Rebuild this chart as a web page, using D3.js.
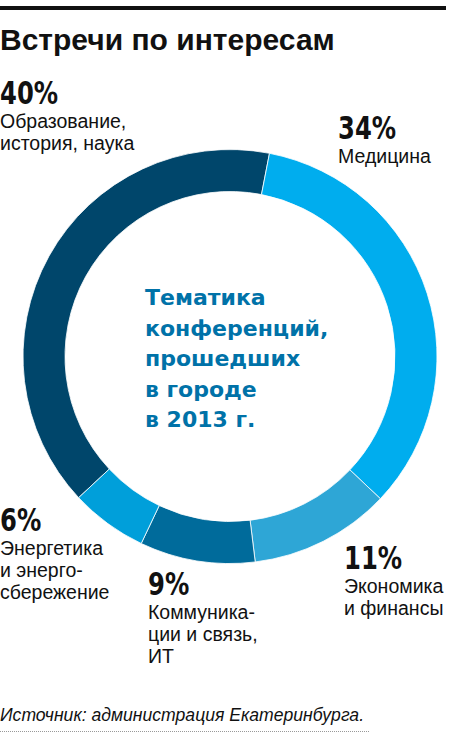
<!DOCTYPE html>
<html><head><meta charset="utf-8">
<script src="https://cdn.jsdelivr.net/npm/d3@7"></script>
<style>
html,body{margin:0;padding:0;background:#fff;}
svg{display:block;}
</style></head>
<body>
<svg id="chart" width="456" height="756"></svg>
<script>
const title = "Встречи по интересам";
const categories = ["Образование, история, наука", "Медицина", "Экономика и финансы", "Коммуникации и связь, ИТ", "Энергетика и энергосбережение"];
const values = [40, 34, 11, 9, 6];
const colors = ["#00466b", "#00adee", "#2ea6d6", "#006b9b", "#009fda"];
const labelLines = [
  ["Образование,", "история, наука"],
  ["Медицина"],
  ["Экономика", "и финансы"],
  ["Коммуника-", "ции и связь,", "ИТ"],
  ["Энергетика", "и энерго-", "сбережение"]
];
const centerLines = ["Тематика", "конференций,", "прошедших", "в городе", "в 2013 г."];
const source = "Источник: администрация Екатеринбурга.";

const svg = d3.select("#chart");

// top rule
svg.append("rect").attr("x", 0).attr("y", 6).attr("width", 446).attr("height", 4).attr("fill", "#111");

svg.append("text").attr("x", 0).attr("y", 50)
  .attr("font-family", "Liberation Sans, Arial, sans-serif").attr("font-weight", "bold")
  .attr("font-size", 30).attr("fill", "#111").text(title);

const cx = 230, cy = 356.5, rOut = 207, rIn = 165;
const start = -133 * Math.PI / 180;
const pie = d3.pie().sort(null).value(d => d).startAngle(start).endAngle(start + 2 * Math.PI);
const arc = d3.arc().innerRadius(rIn).outerRadius(rOut);
const g = svg.append("g").attr("transform", `translate(${cx},${cy})`);
g.selectAll("path").data(pie(values)).join("path")
  .attr("d", arc).attr("fill", (d, i) => colors[i])
  .attr("stroke", "#fff").attr("stroke-width", 0.8);

// center text
const ct = svg.append("text").attr("font-family", "DejaVu Sans, sans-serif").attr("font-weight", "bold")
  .attr("font-size", 22).attr("fill", "#0072a8");
centerLines.forEach((t, i) => {
  ct.append("tspan").attr("x", 145).attr("y", 305 + i * 30.5).text(t);
});

// labels
const labelPos = [
  {x: 0, y: 104},
  {x: 338, y: 139},
  {x: 344, y: 569},
  {x: 148, y: 595},
  {x: 0, y: 531}
];
values.forEach((v, i) => {
  const p = labelPos[i];
  svg.append("text").attr("x", p.x).attr("y", p.y)
    .attr("font-family", "Liberation Sans Narrow, DejaVu Sans Condensed, sans-serif")
    .attr("font-weight", "bold").attr("font-size", 30).attr("fill", "#111")
    .attr("transform", `translate(${p.x},${p.y}) scale(0.9,1.05) translate(${-p.x},${-p.y})`)
    .text(v + "%");
  const t = svg.append("text").attr("font-family", "Liberation Sans, Arial, sans-serif")
    .attr("font-size", 19.5).attr("fill", "#111");
  labelLines[i].forEach((line, j) => {
    t.append("tspan").attr("x", p.x).attr("y", p.y + 24 + j * 22).text(line);
  });
});

// source
svg.append("text").attr("x", 0).attr("y", 721)
  .attr("font-family", "Liberation Sans, Arial, sans-serif").attr("font-style", "italic")
  .attr("font-size", 17.6).attr("fill", "#111").text(source);
svg.append("line").attr("x1", 0).attr("x2", 369).attr("y1", 731.5).attr("y2", 731.5)
  .attr("stroke", "#999").attr("stroke-width", 1).attr("stroke-dasharray", "1,1");
</script>
</body></html>
